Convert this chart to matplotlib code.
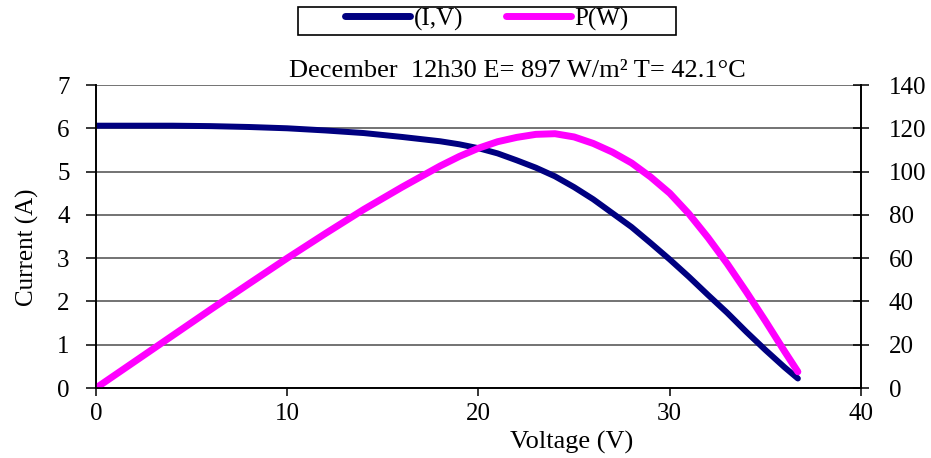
import matplotlib.pyplot as plt
from matplotlib.lines import Line2D
from matplotlib.patches import Rectangle

plt.rcParams["font.family"] = ["Liberation Serif", "DejaVu Serif"]

# values
voltage = [0, 2, 4, 6, 8, 10, 12, 14, 16, 18, 19, 20, 21, 22, 23, 24, 25,
           26, 27, 28, 29, 30, 31, 32, 33, 34, 35, 36, 36.7]
current = [6.06, 6.06, 6.06, 6.05, 6.03, 6.00, 5.95, 5.89, 5.80, 5.70, 5.63,
           5.54, 5.42, 5.26, 5.09, 4.89, 4.64, 4.36, 4.04, 3.72, 3.35, 2.97,
           2.57, 2.15, 1.74, 1.30, 0.88, 0.48, 0.22]
power = [0, 12.1, 24.2, 36.3, 48.2, 60.0, 71.4, 82.5, 92.8, 102.6, 107.0,
         110.8, 113.8, 115.8, 117.2, 117.5, 116.0, 113.0, 109.0, 104.0, 97.5,
         90.0, 80.5, 69.5, 57.5, 44.5, 31.0, 17.0, 7.5]

x_ticks = [0, 10, 20, 30, 40]
left_ticks = [0, 1, 2, 3, 4, 5, 6, 7]
right_ticks = [0, 20, 40, 60, 80, 100, 120, 140]

title = "December  12h30 E= 897 W/m\u00b2 T= 42.1\u00b0C"

navy = "#000080"
pink = "#FF00FF"
fs = 18

fig = plt.figure(figsize=(9.31, 4.58), dpi=100)
ax = fig.add_axes([0.1031, 0.1528, 0.8217, 0.6616])
ax2 = ax.twinx()

ax.plot(voltage, current, color=navy, linewidth=4.3, solid_capstyle="round")
ax2.plot(voltage, power, color=pink, linewidth=5, solid_capstyle="round")

ax.set_xlim(0, 40)
ax.set_ylim(0, 7)
ax2.set_ylim(0, 140)
ax.set_xticks(x_ticks)
ax.set_yticks(left_ticks)
ax2.set_yticks(right_ticks)

ax.grid(True, axis="y", color="#4d4d4d", linewidth=1.1)
ax.set_axisbelow(True)

for a in (ax, ax2):
    a.spines["top"].set_visible(False)
    for s in ("left", "right", "bottom"):
        a.spines[s].set_color("black")
        a.spines[s].set_linewidth(1.2)

ax.tick_params(axis="x", direction="out", length=6, width=1.1, pad=5, labelsize=fs)
ax.tick_params(axis="y", direction="out", length=7, width=1.1, pad=12, labelsize=fs)
ax2.tick_params(axis="y", direction="inout", length=12, width=1.1, pad=14, labelsize=fs)

ax.set_ylabel("Current (A)", fontsize=fs)
ax.yaxis.set_label_coords(-0.075, 0.465)
ax.set_xlabel("Voltage (V)", fontsize=fs + 1)
ax.xaxis.set_label_coords(0.622, -0.14)

fig.text(0.556, 1 - 77 / 458, title, ha="center", va="baseline", fontsize=fs + 1)

# legend box on top of the figure
handles = [Line2D([0], [0], color=navy, linewidth=5, solid_capstyle="round"),
           Line2D([0], [0], color=pink, linewidth=5, solid_capstyle="round")]
fig.legend(handles, ["(I,V)", "P(W)"], loc="center", bbox_to_anchor=(0.523, 0.9585),
           ncol=2, frameon=False, fontsize=fs, handlelength=2.6, handletextpad=0.15,
           columnspacing=1.7)
fig.patches.append(Rectangle((298 / 931, 1 - 35 / 458), 378 / 931, 28 / 458,
                             transform=fig.transFigure, fill=False,
                             edgecolor="black", linewidth=1.2))

fig.savefig("out.png", dpi=100)
